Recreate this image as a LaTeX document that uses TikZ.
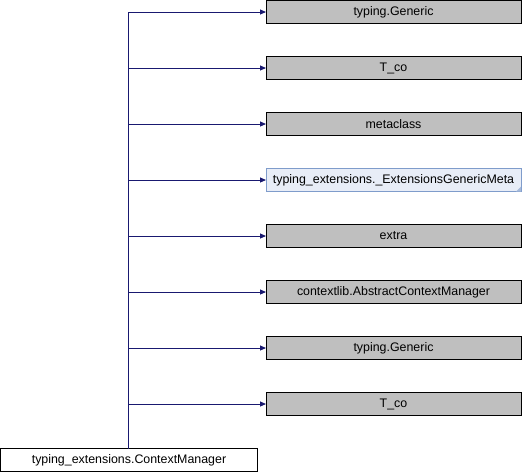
\documentclass[tikz,border=0pt]{standalone}
\usepackage{fontspec}
\setmainfont{Liberation Sans}
\usetikzlibrary{arrows.meta}
\definecolor{edgeblue}{HTML}{191970}
\definecolor{basegray}{HTML}{BFBFBF}
\definecolor{extfill}{HTML}{E8EDF7}
\definecolor{extline}{HTML}{7F9CCB}
\begin{document}
\begin{tikzpicture}[x=1pt,y=-1pt,
  every node/.style={font=\fontsize{12.4}{14}\selectfont, inner sep=0pt, outer sep=0pt},
  basebox/.style={draw=black, line width=0.9pt, fill=basegray, minimum width=255pt, minimum height=23pt, anchor=north west},
  extbox/.style={draw=extline, line width=0.9pt, fill=extfill, minimum width=255pt, minimum height=23pt, anchor=north west},
  childbox/.style={draw=black, line width=0.9pt, fill=white, minimum width=257pt, minimum height=23pt, anchor=north west},
  inherit/.style={draw=edgeblue, line width=0.9pt, -{Triangle[length=6pt,width=5pt]}}]
\useasboundingbox (0,0) rectangle (522,472);

% base classes, stacked on the right
\node[basebox] (b1) at (266,0.5) {typing.Generic};
\node[basebox] (b2) at (266,56.5) {T\_co};
\node[basebox] (b3) at (266,112.5) {metaclass};
\node[extbox]  (b4) at (266,168.5) {typing\_extensions.\_ExtensionsGenericMeta};
\node[basebox] (b5) at (266,224.5) {extra};
\node[basebox] (b6) at (266,280.5) {contextlib.AbstractContextManager};
\node[basebox] (b7) at (266,336.5) {typing.Generic};
\node[basebox] (b8) at (266,392.5) {T\_co};

% folded corner of the external class box
\fill[extline!70] (b4.south east) -- ++(-5,0) -- ++(5,-5) -- cycle;

% derived class
\node[childbox] (c) at (0.5,448.5) {typing\_extensions.ContextManager};

% trunk and branches
\coordinate (trunk) at (128,0);
\foreach \i in {1,...,8} {
  \draw[inherit] (c.north -| trunk) |- (b\i.west);
}
\end{tikzpicture}
\end{document}
